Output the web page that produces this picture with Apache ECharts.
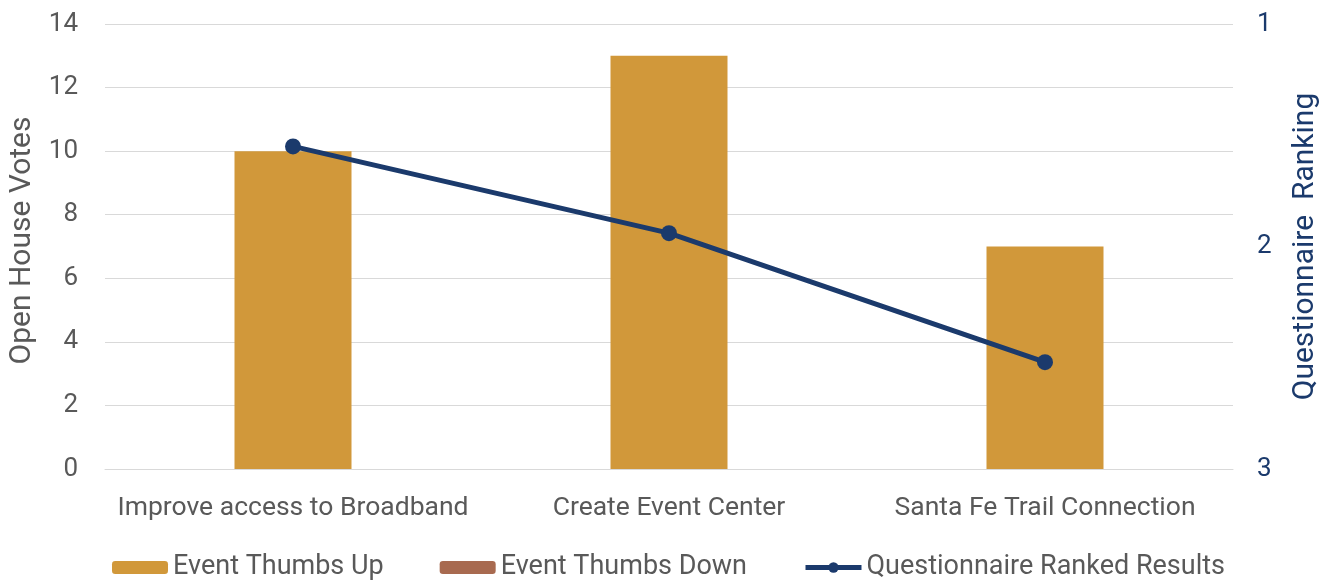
<!DOCTYPE html>
<html>
<head>
<meta charset="utf-8">
<script src="https://cdn.jsdelivr.net/npm/echarts@6/dist/echarts.min.js"></script>
<style>
  html, body { margin: 0; padding: 0; background: #ffffff; }
  #chart { width: 1335px; height: 581px; }
</style>
</head>
<body>
<div id="chart"></div>
<script>
// Projects compared by open-house votes and questionnaire ranking
const categories = ['Improve access to Broadband', 'Create Event Center', 'Santa Fe Trail Connection'];
const thumbsUp = [10, 13, 7];
const thumbsDown = [0, 0, 0];
const ranking = [1.55, 1.94, 2.52];
const leftTicks = { min: 0, max: 14, interval: 2 };
const rightTicks = { min: 1, max: 3, interval: 1 };

const gold = '#D1983A';
const rust = '#A86A50';
const navy = '#1B3A6C';
const grey = '#595959';
const font = 'Roboto, "Noto Sans", sans-serif';

const chart = echarts.init(document.getElementById('chart'), null, { renderer: 'canvas' });
chart.setOption({
  animation: false,
  textStyle: { fontFamily: font },
  grid: { left: 105, right: 102, top: 24, bottom: 112, outerBoundsMode: 'none' },
  legend: {
    top: 549,
    left: 107,
    itemWidth: 56,
    itemHeight: 13,
    itemGap: 56,
    textStyle: { fontSize: 27, color: grey, fontFamily: font },
    data: [
      { name: 'Event Thumbs Up' },
      { name: 'Event Thumbs Down' },
      { name: 'Questionnaire Ranked Results', lineStyle: { width: 5 } }
    ]
  },
  xAxis: {
    type: 'category',
    data: categories,
    axisLine: { lineStyle: { color: '#D9D9D9', width: 1 } },
    axisTick: { show: false },
    axisLabel: { color: grey, fontSize: 26.5, margin: 26, interval: 0 }
  },
  yAxis: [
    {
      type: 'value',
      min: leftTicks.min, max: leftTicks.max, interval: leftTicks.interval,
      name: 'Open House Votes',
      nameLocation: 'middle',
      nameGap: 66,
      nameTextStyle: { color: grey, fontSize: 30, padding: [0, 0, 0, 12] },
      axisLine: { show: false },
      axisTick: { show: false },
      axisLabel: { color: grey, fontSize: 26, margin: 27 },
      splitLine: { lineStyle: { color: '#D9D9D9', width: 1 } }
    },
    {
      type: 'value',
      inverse: true,
      min: rightTicks.min, max: rightTicks.max, interval: rightTicks.interval,
      name: 'Questionnaire  Ranking',
      nameLocation: 'middle',
      nameGap: 57,
      nameTextStyle: { color: navy, fontSize: 30 },
      axisLine: { show: false },
      axisTick: { show: false },
      axisLabel: { color: navy, fontSize: 26, margin: 24 },
      splitLine: { show: false }
    }
  ],
  series: [
    {
      name: 'Event Thumbs Up',
      type: 'bar',
      stack: 'votes',
      data: thumbsUp,
      barWidth: 117,
      itemStyle: { color: gold }
    },
    {
      name: 'Event Thumbs Down',
      type: 'bar',
      stack: 'votes',
      data: thumbsDown,
      barWidth: 117,
      itemStyle: { color: rust }
    },
    {
      name: 'Questionnaire Ranked Results',
      type: 'line',
      yAxisIndex: 1,
      data: ranking,
      symbol: 'circle',
      symbolSize: 16,
      lineStyle: { color: navy, width: 5 },
      itemStyle: { color: navy }
    }
  ]
});
</script>
</body>
</html>
